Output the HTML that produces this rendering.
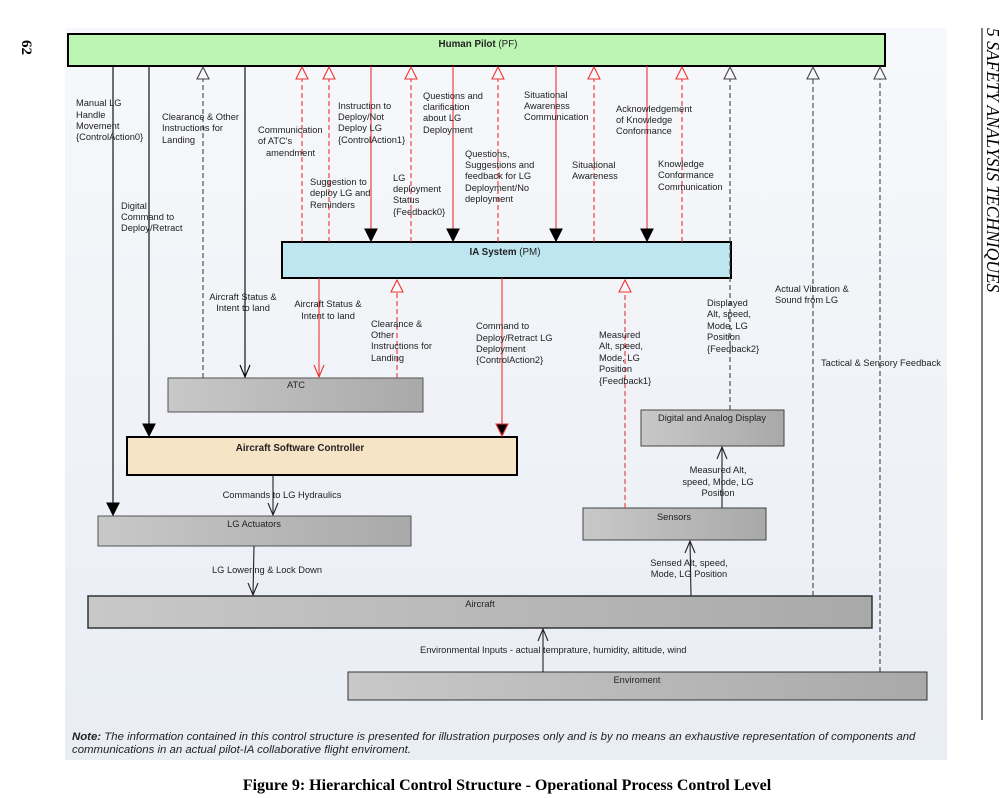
<!DOCTYPE html>
<html><head><meta charset="utf-8"><style>
html,body{margin:0;padding:0;background:#fff;width:1000px;height:798px;overflow:hidden}
svg text{font-family:"Liberation Sans",sans-serif;font-size:9.3px;fill:#222}
.b{font-weight:bold;font-size:9.8px}
</style></head><body>
<svg width="1000" height="798" viewBox="0 0 1000 798" xmlns="http://www.w3.org/2000/svg">
<defs>
<linearGradient id="bg" x1="0" y1="0" x2="0" y2="1"><stop offset="0" stop-color="#f7f8fb"/><stop offset="1" stop-color="#e9edf4"/></linearGradient>
<linearGradient id="gr" x1="0" y1="0" x2="1" y2="0"><stop offset="0" stop-color="#c8c8c8"/><stop offset="1" stop-color="#a9a9a9"/></linearGradient>
</defs>
<rect x="65" y="28" width="882" height="732" fill="url(#bg)"/>
<text x="22" y="40" transform="rotate(90 22 40)" style="font-family:'Liberation Serif',serif;font-size:15px;font-weight:bold;fill:#000">62</text>
<line x1="982" y1="28" x2="982" y2="720" stroke="#000" stroke-width="1"/>
<text x="987" y="28" transform="rotate(90 987 28)" style="font-family:'Liberation Serif',serif;font-size:17.5px;font-style:italic;fill:#000">5   SAFETY ANALYSIS TECHNIQUES</text>

<rect x="68" y="34" width="817" height="32" fill="#bdf5b5" stroke="#000" stroke-width="2"/>
<text x="478" y="47" text-anchor="middle" class="b">Human Pilot <tspan style="font-weight:normal">(PF)</tspan></text>
<rect x="282" y="242" width="449" height="36" fill="#bde6f0" stroke="#000" stroke-width="2"/>
<text x="505" y="255" text-anchor="middle" class="b">IA System <tspan style="font-weight:normal">(PM)</tspan></text>
<rect x="168" y="378" width="255" height="34" fill="url(#gr)" stroke="#555"/>
<text x="296" y="388" text-anchor="middle">ATC</text>
<rect x="127" y="437" width="390" height="38" fill="#f7e3c5" stroke="#000" stroke-width="2"/>
<text x="300" y="451" text-anchor="middle" class="b">Aircraft Software Controller</text>
<rect x="98" y="516" width="313" height="30" fill="url(#gr)" stroke="#555"/>
<text x="254" y="527" text-anchor="middle">LG Actuators</text>
<rect x="88" y="596" width="784" height="32" fill="url(#gr)" stroke="#333" stroke-width="1.5"/>
<text x="480" y="607" text-anchor="middle">Aircraft</text>
<rect x="348" y="672" width="579" height="28" fill="url(#gr)" stroke="#333"/>
<text x="637" y="683" text-anchor="middle">Enviroment</text>
<rect x="641" y="410" width="143" height="36" fill="url(#gr)" stroke="#444"/>
<text x="712" y="421" text-anchor="middle">Digital and Analog Display</text>
<rect x="583" y="508" width="183" height="32" fill="url(#gr)" stroke="#444"/>
<text x="674" y="520" text-anchor="middle">Sensors</text>

<g fill="none" stroke-width="1.1">
<line x1="113" y1="66" x2="113" y2="505" stroke="#000"/>
<polygon points="107,503 119,503 113,515" fill="#000" stroke="#000"/>
<line x1="149" y1="66" x2="149" y2="426" stroke="#000"/>
<polygon points="143,424 155,424 149,436" fill="#000" stroke="#000"/>
<line x1="245" y1="66" x2="245" y2="377" stroke="#000"/>
<polyline points="240,365 245,377 250,365" stroke="#000"/>
<line x1="203" y1="378" x2="203" y2="79" stroke="#444" stroke-dasharray="5,3"/>
<polygon points="203,67 197,79 209,79" fill="#f7f8fb" stroke="#444"/>
<line x1="730" y1="410" x2="730" y2="79" stroke="#444" stroke-dasharray="5,3"/>
<polygon points="730,67 724,79 736,79" fill="#f7f8fb" stroke="#444"/>
<line x1="813" y1="596" x2="813" y2="79" stroke="#444" stroke-dasharray="5,3"/>
<polygon points="813,67 807,79 819,79" fill="#f7f8fb" stroke="#444"/>
<line x1="880" y1="672" x2="880" y2="79" stroke="#444" stroke-dasharray="5,3"/>
<polygon points="880,67 874,79 886,79" fill="#f7f8fb" stroke="#444"/>
<g stroke="#e33">
<line x1="302" y1="242" x2="302" y2="79" stroke-dasharray="5,3"/><polygon points="302,67 296,79 308,79" fill="#f7f8fb"/>
<line x1="329" y1="242" x2="329" y2="79" stroke-dasharray="5,3"/><polygon points="329,67 323,79 335,79" fill="#f7f8fb"/>
<line x1="411" y1="242" x2="411" y2="79" stroke-dasharray="5,3"/><polygon points="411,67 405,79 417,79" fill="#f7f8fb"/>
<line x1="498" y1="242" x2="498" y2="79" stroke-dasharray="5,3"/><polygon points="498,67 492,79 504,79" fill="#f7f8fb"/>
<line x1="594" y1="242" x2="594" y2="79" stroke-dasharray="5,3"/><polygon points="594,67 588,79 600,79" fill="#f7f8fb"/>
<line x1="682" y1="242" x2="682" y2="79" stroke-dasharray="5,3"/><polygon points="682,67 676,79 688,79" fill="#f7f8fb"/>
<line x1="371" y1="66" x2="371" y2="230"/>
<line x1="453" y1="66" x2="453" y2="230"/>
<line x1="556" y1="66" x2="556" y2="230"/>
<line x1="647" y1="66" x2="647" y2="230"/>
<line x1="319" y1="278" x2="319" y2="377"/><polyline points="314,365 319,377 324,365"/>
<line x1="397" y1="378" x2="397" y2="293" stroke-dasharray="5,3"/><polygon points="397,280 391,292 403,292" fill="#f7f8fb"/>
<line x1="502" y1="278" x2="502" y2="426"/>
<line x1="625" y1="508" x2="625" y2="293" stroke-dasharray="5,3"/><polygon points="625,280 619,292 631,292" fill="#f7f8fb"/>
</g>
<g fill="#000" stroke="#000">
<polygon points="365,229 377,229 371,241"/>
<polygon points="447,229 459,229 453,241"/>
<polygon points="550,229 562,229 556,241"/>
<polygon points="641,229 653,229 647,241"/>
</g>
<polygon points="496,424 508,424 502,436" fill="#000" stroke="#e33"/>
<g stroke="#222">
<line x1="273" y1="475" x2="273" y2="515"/><polyline points="268,503 273,515 278,503"/>
<line x1="254" y1="546" x2="253" y2="595"/><polyline points="248,583 253,595 258,583"/>
<line x1="722" y1="508" x2="722" y2="447"/><polyline points="717,459 722,447 727,459"/>
<line x1="691" y1="596" x2="690" y2="541"/><polyline points="685,553 690,541 695,553"/>
<line x1="543" y1="672" x2="543" y2="629"/><polyline points="538,641 543,629 548,641"/>
</g>
</g>

<text x="76" y="106">Manual LG</text><text x="76" y="118">Handle</text><text x="76" y="129">Movement</text><text x="76" y="140">{ControlAction0}</text>
<text x="162" y="120">Clearance &amp; Other</text><text x="162" y="131">Instructions for</text><text x="162" y="143">Landing</text>
<text x="121" y="209">Digital</text><text x="121" y="220">Command to</text><text x="121" y="231">Deploy/Retract</text>
<text x="258" y="133">Communication</text><text x="258" y="144">of ATC's</text><text x="266" y="156">amendment</text>
<text x="338" y="109">Instruction to</text><text x="338" y="120">Deploy/Not</text><text x="338" y="131">Deploy LG</text><text x="338" y="143">{ControlAction1}</text>
<text x="423" y="99">Questions and</text><text x="423" y="110">clarification</text><text x="423" y="121">about LG</text><text x="423" y="133">Deployment</text>
<text x="310" y="185">Suggestion to</text><text x="310" y="196">deploy LG and</text><text x="310" y="208">Reminders</text>
<text x="393" y="181">LG</text><text x="393" y="192">deployment</text><text x="393" y="203">Status</text><text x="393" y="215">{Feedback0}</text>
<text x="465" y="157">Questions,</text><text x="465" y="168">Suggestions and</text><text x="465" y="179">feedback for LG</text><text x="465" y="191">Deployment/No</text><text x="465" y="202">deployment</text>
<text x="524" y="98">Situational</text><text x="524" y="109">Awareness</text><text x="524" y="120">Communication</text>
<text x="572" y="168">Situational</text><text x="572" y="179">Awareness</text>
<text x="616" y="112">Acknowledgement</text><text x="616" y="123">of Knowledge</text><text x="616" y="134">Conformance</text>
<text x="658" y="167">Knowledge</text><text x="658" y="178">Conformance</text><text x="658" y="190">Communication</text>
<text x="243" y="300" text-anchor="middle">Aircraft Status &amp;</text><text x="243" y="311" text-anchor="middle">Intent to land</text>
<text x="328" y="307" text-anchor="middle">Aircraft Status &amp;</text><text x="328" y="319" text-anchor="middle">Intent to land</text>
<text x="371" y="327">Clearance &amp;</text><text x="371" y="338">Other</text><text x="371" y="349">Instructions for</text><text x="371" y="361">Landing</text>
<text x="476" y="329">Command to</text><text x="476" y="341">Deploy/Retract LG</text><text x="476" y="352">Deployment</text><text x="476" y="363">{ControlAction2}</text>
<text x="599" y="338">Measured</text><text x="599" y="349">Alt, speed,</text><text x="599" y="361">Mode, LG</text><text x="599" y="372">Position</text><text x="599" y="384">{Feedback1}</text>
<text x="707" y="306">Displayed</text><text x="707" y="317">Alt, speed,</text><text x="707" y="329">Mode, LG</text><text x="707" y="340">Position</text><text x="707" y="352">{Feedback2}</text>
<text x="775" y="292">Actual Vibration &amp;</text><text x="775" y="303">Sound from LG</text>
<text x="821" y="366">Tactical &amp; Sensory Feedback</text>
<text x="718" y="473" text-anchor="middle">Measured Alt,</text><text x="718" y="485" text-anchor="middle">speed, Mode, LG</text><text x="718" y="496" text-anchor="middle">Position</text>
<text x="689" y="566" text-anchor="middle">Sensed Alt, speed,</text><text x="689" y="577" text-anchor="middle">Mode, LG Position</text>
<text x="282" y="498" text-anchor="middle">Commands to LG Hydraulics</text>
<text x="267" y="573" text-anchor="middle">LG Lowering &amp; Lock Down</text>
<text x="420" y="653">Environmental Inputs - actual temprature, humidity, altitude, wind</text>

<text x="72" y="740" style="font-size:11.4px;font-style:italic"><tspan font-weight="bold">Note:</tspan> The information contained in this control structure is presented for illustration purposes only and is by no means an exhaustive representation of components and</text>
<text x="72" y="753" style="font-size:11.4px;font-style:italic">communications in an actual pilot-IA collaborative flight enviroment.</text>
<text x="507" y="790" text-anchor="middle" style="font-family:'Liberation Serif',serif;font-size:16px;font-weight:bold;fill:#000">Figure 9: Hierarchical Control Structure - Operational Process Control Level</text>
</svg>
</body></html>
